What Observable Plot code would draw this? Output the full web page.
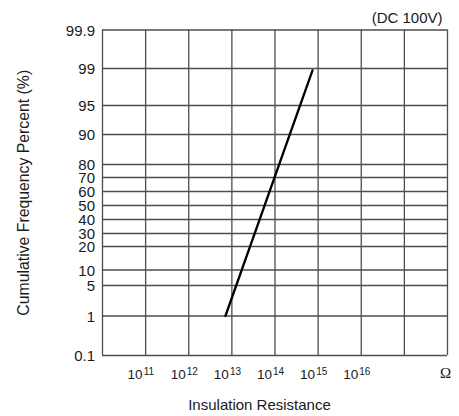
<!DOCTYPE html>
<html>
<head>
<meta charset="utf-8">
<script src="https://cdn.jsdelivr.net/npm/d3@7"></script>
<script src="https://cdn.jsdelivr.net/npm/@observablehq/plot@0.6"></script>
<style>
  html, body { margin: 0; padding: 0; background: #fff; }
  #chart svg { display: block; }
</style>
</head>
<body>
<div id="chart"></div>
<script>
// ---- data ----
const yTicks = [0.1, 1, 5, 10, 20, 30, 40, 50, 60, 70, 80, 90, 95, 99, 99.9];
const yTickLabels = ["0.1", "1", "5", "10", "20", "30", "40", "50", "60", "70", "80", "90", "95", "99", "99.9"];
const xGrid = [1e10, 1e11, 1e12, 1e13, 1e14, 1e15, 1e16, 1e17, 1e18];
const xTickValues = [1e11, 1e12, 1e13, 1e14, 1e15, 1e16];
const xTickExponents = ["11", "12", "13", "14", "15", "16"];
const resistance = [7.08e12, 7.41e14];
const percent = [1, 98.8];
const unitLabel = "Ω";
const unitAt = [1e18];
const conditionText = "(DC 100V)";
const xTitle = "Insulation Resistance";
const yTitle = "Cumulative Frequency Percent (%)";

const lineData = resistance.map((r, i) => ({r, p: percent[i]}));
const gridColor = "#4d4d4d";
const font = "'Liberation Sans', Arial, Helvetica, sans-serif";

const chart = Plot.plot({
  width: 459,
  height: 416,
  marginLeft: 102,
  marginRight: 12,
  marginTop: 29.5,
  marginBottom: 61,
  style: {fontFamily: font, background: "white", color: "#1a1a1a"},
  x: {type: "log", domain: [1e10, 1e18], axis: null},
  y: {
    type: "linear",
    domain: yTicks,
    range: [355, 315.5, 285, 269.5, 246, 233, 219, 205, 191, 177, 164, 134, 105, 68, 29.5],
    axis: null
  },
  marks: [
    Plot.ruleX(xGrid, {x: d => d, y1: 0.1, y2: 99.9, stroke: gridColor, strokeWidth: 1.3}),
    Plot.ruleY(yTicks, {y: d => d, x1: 1e10, x2: 1e18, stroke: gridColor, strokeWidth: 1.3}),
    Plot.line(lineData, {x: "r", y: "p", stroke: "black", strokeWidth: 2.3}),
    // y tick labels
    Plot.text(yTicks, {y: d => d, text: (d, i) => yTickLabels[i], frameAnchor: "left", textAnchor: "end", lineAnchor: "middle", dx: -7.5, dy: 1, fontSize: 15, fill: "#1a1a1a"}),
    // x tick labels: base and exponent
    Plot.text(xTickValues, {x: d => d, text: () => "10", frameAnchor: "bottom", textAnchor: "end", lineAnchor: "middle", dx: -3, dy: 19.5, fontSize: 13.5, fill: "#1a1a1a"}),
    Plot.text(xTickValues, {x: d => d, text: (d, i) => xTickExponents[i], frameAnchor: "bottom", textAnchor: "start", lineAnchor: "middle", dx: -2, dy: 16, fontSize: 10, fill: "#1a1a1a"}),
    // unit
    Plot.text(unitAt, {x: d => d, text: () => unitLabel, frameAnchor: "bottom", textAnchor: "middle", lineAnchor: "middle", dx: -2, dy: 18, fontSize: 15, fontFamily: "'Liberation Serif', 'DejaVu Serif', serif", fill: "#1a1a1a"}),
    // titles
    Plot.text([xTitle], {frameAnchor: "bottom", text: d => d, textAnchor: "middle", lineAnchor: "middle", dx: -15.5, dy: 50, fontSize: 15, fill: "#1a1a1a"}),
    Plot.text([yTitle], {frameAnchor: "left", text: d => d, rotate: -90, textAnchor: "middle", lineAnchor: "middle", dx: -79, fontSize: 15.8, fill: "#1a1a1a"}),
    Plot.text([conditionText], {frameAnchor: "top-right", text: d => d, textAnchor: "end", lineAnchor: "middle", dx: -5, dy: -12, fontSize: 15, fill: "#1a1a1a"})
  ]
});
document.getElementById("chart").appendChild(chart);
</script>
</body>
</html>
